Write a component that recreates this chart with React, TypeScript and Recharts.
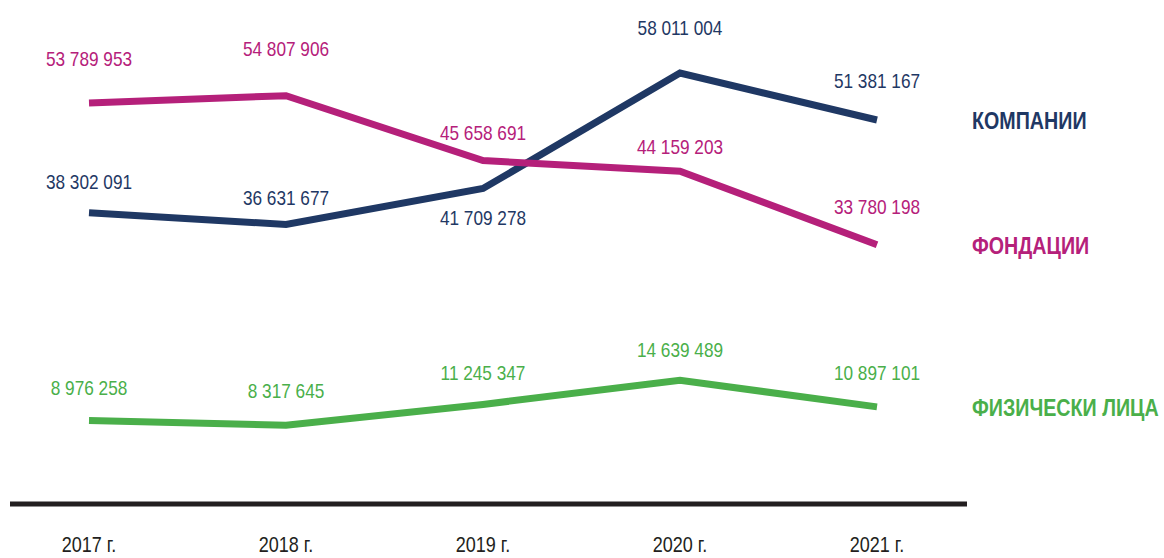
import React from "react";
import { LineChart, Line, XAxis, YAxis } from "recharts";

const years = ["2017 г.", "2018 г.", "2019 г.", "2020 г.", "2021 г."];
const companies = [38302091, 36631677, 41709278, 58011004, 51381167];
const foundations = [53789953, 54807906, 45658691, 44159203, 33780198];
const individuals = [8976258, 8317645, 11245347, 14639489, 10897101];

const seriesNames = {
  companies: "КОМПАНИИ",
  foundations: "ФОНДАЦИИ",
  individuals: "ФИЗИЧЕСКИ ЛИЦА",
};

// vertical offsets of the value labels (centre relative to the point)
const labelOffsets = {
  companies: [-31, -27, 29, -45, -39],
  foundations: [-44, -47, -28, -24, -38],
  individuals: [-33, -34, -32, -30, -34],
};

const COLORS = {
  companies: "#1f3864",
  foundations: "#b5207a",
  individuals: "#4aaf4a",
};

// Arial Narrow is not installed: Liberation Sans squeezed horizontally
const FONT = "'Liberation Sans', Arial, sans-serif";
const NARROW = 0.82;

const data = years.map((year, i) => ({
  year,
  companies: companies[i],
  foundations: foundations[i],
  individuals: individuals[i],
}));

const fmt = (v: number) => String(v).replace(/\B(?=(\d{3})+(?!\d))/g, " ");

const NarrowText = ({ x, y, children, ...rest }: any) => (
  <text transform={`translate(${x},${y}) scale(${NARROW},1)`} x={0} y={0} fontFamily={FONT} {...rest}>
    {children}
  </text>
);

const makeLabel = (key: "companies" | "foundations" | "individuals") => (props: any) => {
  const { x, y, index, value } = props;
  const color = COLORS[key];
  return (
    <g key={`${key}-${index}`}>
      <NarrowText
        x={x}
        y={y + labelOffsets[key][index]}
        textAnchor="middle"
        dominantBaseline="central"
        fill={color}
        fontSize={21}
      >
        {fmt(value)}
      </NarrowText>
      {index === years.length - 1 && (
        <NarrowText
          x={x + 95}
          y={y + 1}
          textAnchor="start"
          dominantBaseline="central"
          fill={color}
          fontSize={24}
          fontWeight="bold"
        >
          {seriesNames[key]}
        </NarrowText>
      )}
    </g>
  );
};

const YearTick = (props: any) => {
  const { x, payload } = props;
  return (
    <NarrowText x={x} y={552} textAnchor="middle" fill="#231f20" fontSize={22}>
      {payload.value}
    </NarrowText>
  );
};

export default function App() {
  return (
    <div style={{ position: "absolute", left: 0, top: 0, width: 1164, height: 558, background: "#fff" }}>
      <LineChart
        width={1164}
        height={558}
        data={data}
        margin={{ top: 20, right: 197, bottom: 0, left: 10 }}
      >
        <XAxis
          dataKey="year"
          height={54}
          axisLine={{ stroke: "#231f20", strokeWidth: 5 }}
          tickLine={false}
          tick={<YearTick />}
          padding={{ left: 79, right: 90 }}
          interval={0}
        />
        <YAxis hide type="number" domain={[-2810000, 65490000]} allowDataOverflow />
        <Line
          dataKey="companies"
          stroke={COLORS.companies}
          strokeWidth={7}
          dot={false}
          activeDot={false}
          isAnimationActive={false}
          label={makeLabel("companies")}
        />
        <Line
          dataKey="foundations"
          stroke={COLORS.foundations}
          strokeWidth={7}
          dot={false}
          activeDot={false}
          isAnimationActive={false}
          label={makeLabel("foundations")}
        />
        <Line
          dataKey="individuals"
          stroke={COLORS.individuals}
          strokeWidth={7}
          dot={false}
          activeDot={false}
          isAnimationActive={false}
          label={makeLabel("individuals")}
        />
      </LineChart>
    </div>
  );
}
